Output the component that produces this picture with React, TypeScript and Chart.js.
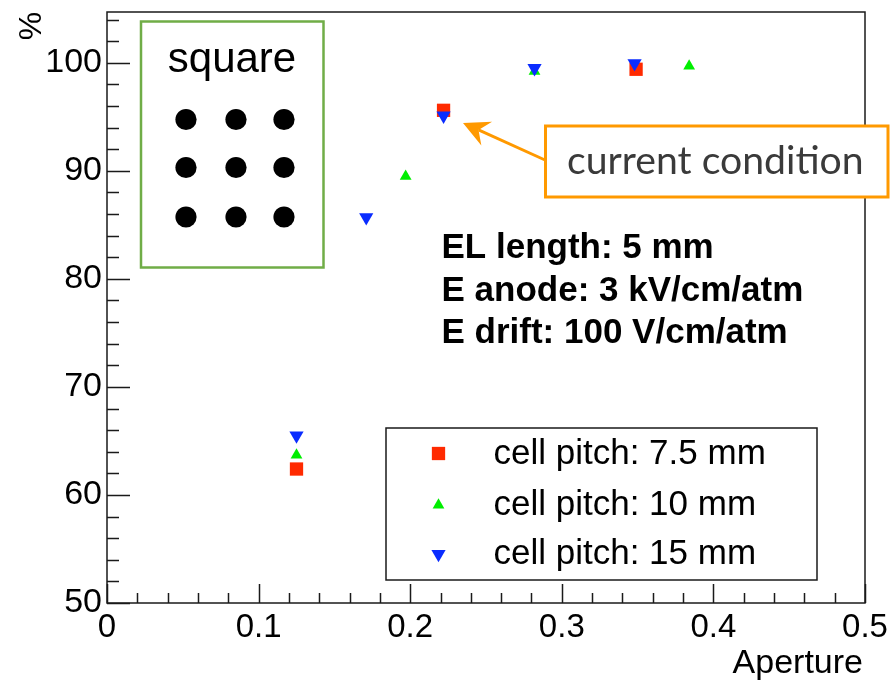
import React, { useEffect, useRef } from "react";
import { Chart, registerables } from "chart.js";
import { drawPoint } from "chart.js/helpers";

Chart.register(...registerables);

// Collection efficiency (%) versus aperture for three cell pitches
const pitch75Aperture = [0.125, 0.222, 0.349];
const pitch75Value = [62.4, 95.6, 99.4];
const pitch10Aperture = [0.125, 0.197, 0.282, 0.384];
const pitch10Value = [63.7, 89.5, 99.2, 99.7];
const pitch15Aperture = [0.125, 0.171, 0.222, 0.282, 0.348];
const pitch15Value = [65.5, 85.7, 95.1, 99.5, 99.95];

const seriesLabels = ["cell pitch: 7.5 mm", "cell pitch: 10 mm", "cell pitch: 15 mm"];
const seriesColors = ["#ff2a00", "#00ee00", "#0a2cff"];

const xRange = [0, 0.5];
const yRange = [50, 104.7];
const xStep = 0.1;
const yStep = 10;

const xTitle = "Aperture";
const yTitle = "%";
const geometryLabel = "square";
const noteLabel = "current condition";
const conditionLines = ["EL length: 5 mm", "E anode: 3 kV/cm/atm", "E drift: 100 V/cm/atm"];

const FONT = '"Liberation Sans", Arial, Helvetica, sans-serif';

function toPoints(xs: number[], ys: number[]) {
  return xs.map((x, i) => ({ x, y: ys[i] }));
}

const markerStyles = [
  { pointStyle: "rect", radius: 9.4, rotation: 0 },
  { pointStyle: "triangle", radius: 6.8, rotation: 0 },
  { pointStyle: "triangle", radius: 8.2, rotation: 180 },
];
// later series are painted above earlier ones
const drawOrder = [2, 1, 0];

const decorations = {
  id: "decorations",
  afterDatasetsDraw(chart: any) {
    const { ctx, chartArea: a, scales } = chart;
    const xs = scales.x;
    const ys = scales.y;
    ctx.save();

    // inward tick marks on the left and bottom axes
    ctx.strokeStyle = "#1a1a1a";
    ctx.lineWidth = 1.5;
    ctx.beginPath();
    for (let i = 0; i <= 27; i++) {
      const v = yRange[0] + i * 2;
      if (v > yRange[1]) break;
      const py = Math.round(ys.getPixelForValue(v)) + 0.5;
      const len = i % 5 === 0 ? 23 : 12;
      ctx.moveTo(a.left, py);
      ctx.lineTo(a.left + len, py);
    }
    for (let i = 0; i <= 25; i++) {
      const v = i * 0.02;
      const px = Math.round(xs.getPixelForValue(v)) + 0.5;
      const len = i % 5 === 0 ? 19 : 10;
      ctx.moveTo(px, a.bottom);
      ctx.lineTo(px, a.bottom - len);
    }
    ctx.stroke();

    // frame
    ctx.strokeRect(a.left, a.top, a.right - a.left, a.bottom - a.top);

    // axis titles
    ctx.fillStyle = "#000";
    ctx.font = `34px ${FONT}`;
    ctx.textAlign = "right";
    ctx.textBaseline = "alphabetic";
    ctx.fillText(xTitle, a.right - 2, 673);
    ctx.save();
    ctx.translate(32, 26);
    ctx.rotate(-Math.PI / 2);
    ctx.textAlign = "center";
    ctx.textBaseline = "middle";
    ctx.font = `32px ${FONT}`;
    ctx.fillText(yTitle, 0, 0);
    ctx.restore();

    // cell layout sketch
    ctx.fillStyle = "#fff";
    ctx.fillRect(141, 21.5, 182.5, 246);
    ctx.strokeStyle = "#70ad47";
    ctx.lineWidth = 2.5;
    ctx.strokeRect(141, 21.5, 182.5, 246);
    ctx.fillStyle = "#000";
    ctx.font = `42px ${FONT}`;
    ctx.textAlign = "center";
    ctx.textBaseline = "alphabetic";
    ctx.fillText(geometryLabel, 232, 71.5);
    const dotX = [186, 236, 284];
    const dotY = [119.5, 167.5, 217];
    for (const dy of dotY) {
      for (const dx of dotX) {
        ctx.beginPath();
        ctx.arc(dx, dy, 10.6, 0, Math.PI * 2);
        ctx.fill();
      }
    }

    // operating conditions
    ctx.font = `bold 35px ${FONT}`;
    ctx.textAlign = "left";
    const condBase = [258, 300.5, 343];
    conditionLines.forEach((t, i) => ctx.fillText(t, 441.5, condBase[i]));

    // legend
    const lg = { x: 386, y: 428, w: 431, h: 152 };
    ctx.fillStyle = "#fff";
    ctx.fillRect(lg.x, lg.y, lg.w, lg.h);
    ctx.strokeStyle = "#1a1a1a";
    ctx.lineWidth = 1.5;
    ctx.strokeRect(lg.x, lg.y, lg.w, lg.h);
    const rowY = [453.5, 505, 554];
    ctx.font = `35px ${FONT}`;
    chart.data.datasets.forEach((ds: any, i: number) => {
      ctx.fillStyle = ds.pointBackgroundColor;
      drawPoint(ctx, { ...markerStyles[i], borderWidth: 0 } as any, 438.5, rowY[i]);
      ctx.fillStyle = "#000";
      ctx.textAlign = "left";
      ctx.fillText(ds.label, 493.5, rowY[i] + 10);
    });

    // call-out for the present working point
    const box = { x: 545.5, y: 126, w: 342.5, h: 71 };
    const tail = { x: 545, y: 160 };
    const tip = { x: 463, y: 123 };
    ctx.strokeStyle = "#ff9900";
    ctx.fillStyle = "#ff9900";
    ctx.lineWidth = 3;
    const dx = tip.x - tail.x;
    const dy = tip.y - tail.y;
    const len = Math.hypot(dx, dy);
    const ux = dx / len;
    const uy = dy / len;
    const notch = { x: tip.x - ux * 17, y: tip.y - uy * 17 };
    ctx.beginPath();
    ctx.moveTo(tail.x, tail.y);
    ctx.lineTo(notch.x, notch.y);
    ctx.stroke();
    const back = 26;
    const half = 13;
    ctx.beginPath();
    ctx.moveTo(tip.x, tip.y);
    ctx.lineTo(tip.x - ux * back - uy * half, tip.y - uy * back + ux * half);
    ctx.lineTo(notch.x, notch.y);
    ctx.lineTo(tip.x - ux * back + uy * half, tip.y - uy * back - ux * half);
    ctx.closePath();
    ctx.fill();

    ctx.fillStyle = "#fff";
    ctx.fillRect(box.x, box.y, box.w, box.h);
    ctx.strokeRect(box.x, box.y, box.w, box.h);
    ctx.fillStyle = "#3a3a3a";
    ctx.font = `36px Lato, "Open Sans", sans-serif`;
    const w36 = ctx.measureText(noteLabel).width;
    const size = (36 * 297) / w36;
    ctx.font = `${size.toFixed(1)}px Lato, "Open Sans", sans-serif`;
    ctx.textAlign = "left";
    ctx.fillText(noteLabel, 567, 174);

    ctx.restore();
  },
};

export default function App() {
  const ref = useRef<HTMLCanvasElement>(null);

  useEffect(() => {
    const canvas = ref.current!;
    const allX = [pitch75Aperture, pitch10Aperture, pitch15Aperture];
    const allY = [pitch75Value, pitch10Value, pitch15Value];
    const chart = new Chart(canvas, {
      type: "scatter",
      data: {
        datasets: seriesLabels.map((label, i) => ({
          label,
          order: drawOrder[i],
          data: toPoints(allX[i], allY[i]),
          pointStyle: markerStyles[i].pointStyle as any,
          pointRotation: markerStyles[i].rotation,
          pointRadius: markerStyles[i].radius,
          pointHoverRadius: markerStyles[i].radius,
          pointBackgroundColor: seriesColors[i],
          pointBorderColor: seriesColors[i],
          pointBorderWidth: 0,
          showLine: false,
        })),
      },
      options: {
        animation: false,
        responsive: false,
        devicePixelRatio: 1,
        events: [],
        layout: { padding: { top: 12, right: 26, left: 0, bottom: 0 } },
        plugins: {
          legend: { display: false },
          tooltip: { enabled: false },
        },
        scales: {
          x: {
            type: "linear",
            min: xRange[0],
            max: xRange[1],
            grid: { display: false, drawTicks: false },
            border: { display: false },
            ticks: {
              stepSize: xStep,
              includeBounds: false,
              autoSkip: false,
              maxRotation: 0,
              padding: 5,
              color: "#000",
              font: { family: FONT, size: 33 },
              callback: (v: any) => (Number(v) === 0 ? "0" : Number(v).toFixed(1)),
            },
            afterFit: (s: any) => {
              s.height = 78;
              s.paddingLeft = 0;
              s.paddingRight = 0;
            },
          },
          y: {
            type: "linear",
            min: yRange[0],
            max: yRange[1],
            grid: { display: false, drawTicks: false },
            border: { display: false },
            ticks: {
              stepSize: yStep,
              includeBounds: false,
              autoSkip: false,
              padding: 5,
              color: "#000",
              font: { family: FONT, size: 34 },
              callback: (v: any) => String(Math.round(Number(v))),
            },
            afterFit: (s: any) => {
              s.width = 107;
              s.paddingTop = 0;
              s.paddingBottom = 0;
            },
          },
        },
      },
      plugins: [decorations],
    });
    return () => chart.destroy();
  }, []);

  return (
    <div style={{ position: "absolute", left: 0, top: 0, width: 891, height: 681, background: "#fff" }}>
      <canvas ref={ref} width={891} height={681} style={{ display: "block", width: 891, height: 681 }} />
    </div>
  );
}
